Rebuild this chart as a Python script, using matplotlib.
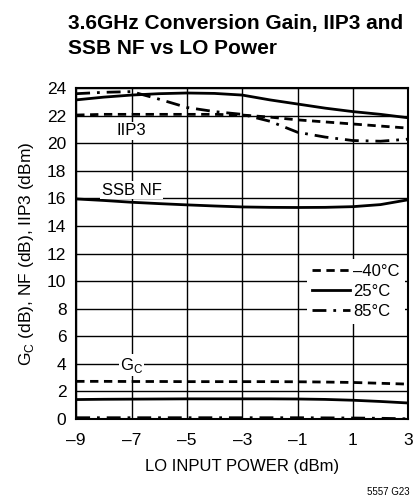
import matplotlib
matplotlib.use("Agg")
from matplotlib import pyplot as plt
from matplotlib import font_manager

# pick a narrow sans if present
names = {f.name for f in font_manager.fontManager.ttflist}
narrow = "Liberation Sans Narrow" if "Liberation Sans Narrow" in names else "Liberation Sans"
plt.rcParams["font.family"] = [narrow, "DejaVu Sans"]

lo_power = [-9, -8, -7, -6, -5, -4, -3, -2, -1, 0, 1, 2, 3]

# IIP3 (dBm)
iip3_m40 = [22.05, 22.1, 22.1, 22.1, 22.1, 22.1, 22.05, 21.9, 21.7, 21.55, 21.4, 21.25, 21.1]
iip3_25 = [23.15, 23.35, 23.5, 23.6, 23.65, 23.62, 23.5, 23.15, 22.85, 22.55, 22.3, 22.1, 21.85]
iip3_85 = [23.6, 23.7, 23.75, 23.2, 22.6, 22.3, 22.1, 21.6, 20.8, 20.45, 20.2, 20.15, 20.3]

# SSB NF (dB)
nf_25 = [15.96, 15.85, 15.72, 15.62, 15.53, 15.45, 15.38, 15.35, 15.34, 15.35, 15.4, 15.55, 15.9]

# conversion gain (dB)
gc_m40 = [2.72, 2.72, 2.71, 2.71, 2.7, 2.7, 2.7, 2.7, 2.69, 2.67, 2.64, 2.58, 2.52]
gc_25 = [1.4, 1.42, 1.43, 1.44, 1.45, 1.45, 1.45, 1.45, 1.44, 1.41, 1.35, 1.26, 1.15]
gc_85 = [0.08, 0.08, 0.08, 0.08, 0.08, 0.08, 0.08, 0.08, 0.08, 0.07, 0.06, 0.04, 0.0]

xticks = [-9, -7, -5, -3, -1, 1, 3]
xtick_labels = ["–9", "–7", "–5", "–3", "–1", "1", "3"]
yticks = list(range(0, 25, 2))

dash_m40 = (0, (3, 2))
dash_85 = (0, (5, 2.5, 1, 2.5))

fig = plt.figure(figsize=(4.14, 5.01), dpi=100)
ax = fig.add_axes([0.184, 0.164, 0.802, 0.66])

lw = 2.0
ax.plot(lo_power, iip3_m40, color="black", lw=lw, ls=dash_m40, label="–40°C")
ax.plot(lo_power, iip3_25, color="black", lw=lw, ls="-", label="25°C")
ax.plot(lo_power, iip3_85, color="black", lw=lw, ls=dash_85, label="85°C")
ax.plot(lo_power, nf_25, color="black", lw=lw, ls="-")
ax.plot(lo_power, gc_m40, color="black", lw=lw, ls=dash_m40)
ax.plot(lo_power, gc_25, color="black", lw=lw, ls="-")
ax.plot(lo_power, gc_85, color="black", lw=lw, ls=dash_85)

ax.set_xlim(-9, 3)
ax.set_ylim(0, 24)
ax.set_xticks(xticks)
ax.set_xticklabels(xtick_labels)
ax.set_yticks(yticks)
ax.tick_params(length=0, labelsize=12.5)
ax.tick_params(axis="y", pad=7)
ax.tick_params(axis="x", pad=10)
ax.grid(True, color="black", lw=1.0)
for s in ax.spines.values():
    s.set_linewidth(1.5)

box = dict(facecolor="white", edgecolor="none", pad=1)
ax.text(-7, 20.9, "IIP3", ha="center", va="center", fontsize=12, bbox=box)
ax.text(-7, 16.6, "SSB NF", ha="center", va="center", fontsize=12, bbox=box)
ax.text(-7, 3.9, "G$_\\mathregular{C}$", ha="center", va="center", fontsize=12, bbox=box)

leg = ax.legend(loc="center right", bbox_to_anchor=(1.0, 0.385), frameon=True,
                fontsize=12, handlelength=2.3, handletextpad=0.2, labelspacing=0.3,
                borderpad=0.3, fancybox=False, borderaxespad=0.2)
leg.get_frame().set_edgecolor("none")
leg.get_frame().set_alpha(1)

ax.set_xlabel("LO INPUT POWER (dBm)", fontsize=12, labelpad=8)
ax.set_ylabel("G$_\\mathregular{C}$ (dB), NF (dB), IIP3 (dBm)", fontsize=12.5, labelpad=8)

fig.text(0.164, 0.928, "3.6GHz Conversion Gain, IIP3 and\nSSB NF vs LO Power",
         fontsize=15, fontweight="bold", ha="left", va="center", linespacing=1.45)
fig.text(0.99, 0.018, "5557 G23", fontsize=7, ha="right", va="center")

fig.savefig("out.png", dpi=100)
